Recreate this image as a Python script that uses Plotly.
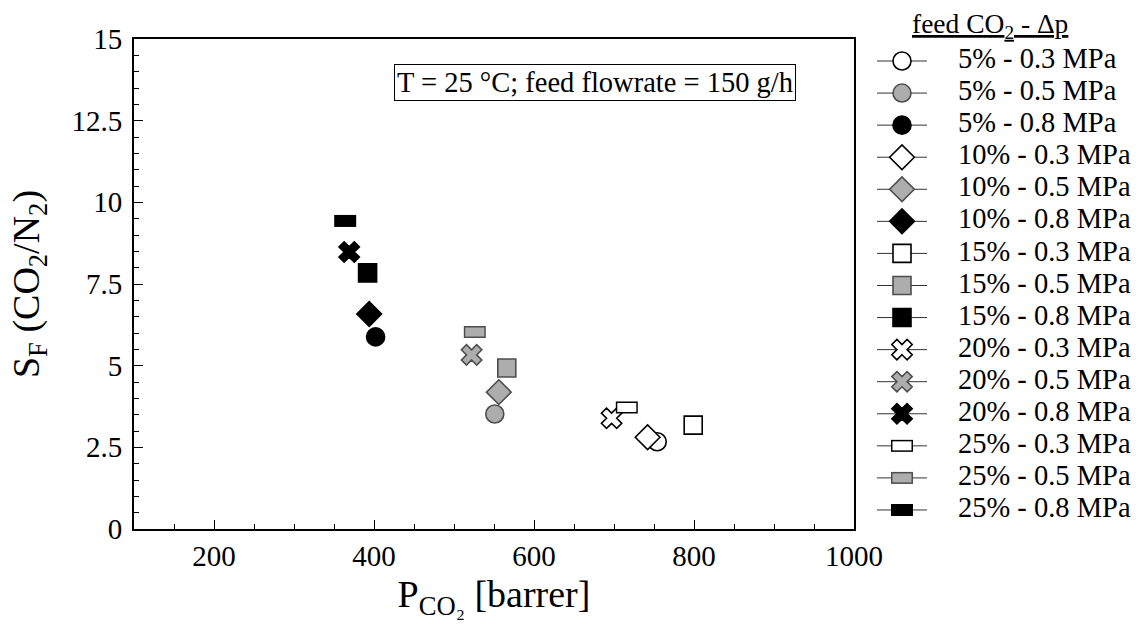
import plotly.graph_objects as go

# ---------------- data ----------------
feed_co2 = ["5%", "10%", "15%", "20%", "25%"]
delta_p = ["0.3 MPa", "0.5 MPa", "0.8 MPa"]

# CO2 permeance [barrer] per feed CO2 (5,10,15,20,25 %)
perm_03 = [754, 742, 799, 697, 716]
perm_05 = [551, 556, 566, 522, 526]
perm_08 = [402, 394, 392, 369, 364]
# selectivity S_F (CO2/N2)
sel_03 = [2.67, 2.81, 3.18, 3.39, 3.72]
sel_05 = [3.52, 4.19, 4.93, 5.33, 6.03]
sel_08 = [5.88, 6.58, 7.84, 8.48, 9.43]

x_ticks = [200, 400, 600, 800, 1000]
y_ticks = [0, 2.5, 5, 7.5, 10, 12.5, 15]

perms = [perm_03, perm_05, perm_08]
sels = [sel_03, sel_05, sel_08]

# ---------------- styles ----------------
FONT = "Liberation Serif"
symbols = ["circle", "diamond", "square", "x", "rect"]
sizes = {"circle": 18, "diamond": 19, "square": 18, "x": 18}
# (fill, edge) per delta p
fills = [("white", "black"), ("#adadad", "#4d4d4d"), ("black", "black")]

fig = go.Figure()


def add_marker(x, y, sym, fill, edge, xa, ya):
    if sym == "rect":
        fig.add_trace(go.Scatter(
            x=x, y=y, mode="markers", xaxis=xa, yaxis=ya, showlegend=False,
            hoverinfo="skip",
            marker=dict(symbol="line-ew", size=15.7, color=edge,
                        line=dict(color=edge, width=12))))
        if fill != edge:
            fig.add_trace(go.Scatter(
                x=x, y=y, mode="markers", xaxis=xa, yaxis=ya, showlegend=False,
                hoverinfo="skip",
                marker=dict(symbol="line-ew", size=13.6, color=fill,
                            line=dict(color=fill, width=9))))
    else:
        fig.add_trace(go.Scatter(
            x=x, y=y, mode="markers", xaxis=xa, yaxis=ya, showlegend=False,
            marker=dict(symbol=sym, size=sizes[sym], color=fill,
                        line=dict(color=edge, width=1.6))))


# data markers in the plot
for i, feed in enumerate(feed_co2):
    for j, dp in enumerate(delta_p):
        add_marker([perms[j][i]], [sels[j][i]], symbols[i],
                   fills[j][0], fills[j][1], "x", "y")

# ---------------- custom legend (second axes) ----------------
labels = [f"{f} - {d}" for f in feed_co2 for d in delta_p]
rows = list(range(len(labels)))
seg_x, seg_y = [], []
for r in rows:
    seg_x += [17, 67, None]
    seg_y += [r, r, None]
fig.add_trace(go.Scatter(x=seg_x, y=seg_y, mode="lines", xaxis="x2", yaxis="y2",
                         showlegend=False, hoverinfo="skip",
                         line=dict(color="#333333", width=1)))
for i, feed in enumerate(feed_co2):
    for j, dp in enumerate(delta_p):
        r = i * 3 + j
        add_marker([42], [r], symbols[i], fills[j][0], fills[j][1], "x2", "y2")
fig.add_trace(go.Scatter(x=[98] * len(labels), y=rows, text=labels, mode="text",
                         textposition="middle right", xaxis="x2", yaxis="y2",
                         showlegend=False, hoverinfo="skip", cliponaxis=False,
                         textfont=dict(family=FONT, size=28.5, color="black")))

W, H = 1144, 632
L, R, T, B = 134, 0, 39, 103
pw = W - L - R
ph = H - T - B
main_right = 854

fig.update_layout(
    template="none",
    width=W, height=H,
    margin=dict(l=L, r=R, t=T, b=B, autoexpand=False),
    paper_bgcolor="white", plot_bgcolor="white",
    font=dict(family=FONT, color="black", size=28),
    showlegend=False,
    xaxis=dict(
        domain=[0, (main_right - L) / pw], automargin=False,
        range=[100, 1000], tickvals=x_ticks, ticks="inside", ticklen=9,
        tickwidth=1, tickcolor="black",
        minor=dict(dtick=50, tick0=0, ticks="inside", ticklen=5, tickcolor="black",
                   showgrid=False),
        showline=True, linecolor="black", linewidth=2, mirror=True,
        showgrid=False, zeroline=False,
        tickfont=dict(family=FONT, size=29),
        title=dict(text="P<sub>CO₂</sub> [barrer]", font=dict(family=FONT, size=38),
                   standoff=10),
    ),
    yaxis=dict(
        automargin=False,
        range=[0, 15], tickvals=y_ticks, ticks="inside", ticklen=9,
        tickwidth=1, tickcolor="black",
        minor=dict(dtick=0.5, tick0=0, ticks="inside", ticklen=5, tickcolor="black",
                   showgrid=False),
        showline=True, linecolor="black", linewidth=2, mirror=True,
        showgrid=False, zeroline=False,
        tickfont=dict(family=FONT, size=29), ticklabelstandoff=4,
        title=dict(text="S<sub>F</sub> (CO<sub>2</sub>/N<sub>2</sub>)",
                   font=dict(family=FONT, size=38), standoff=20),
    ),
    xaxis2=dict(domain=[(860 - L) / pw, 1], range=[0, 284], visible=False,
                anchor="y2", fixedrange=True, automargin=False),
    yaxis2=dict(domain=[0, 1], range=[(529 - 61) / 32.07, (39 - 61) / 32.07],
                visible=False, anchor="x2", fixedrange=True, automargin=False),
    annotations=[
        dict(text="T = 25 °C; feed flowrate = 150 g/h", xref="paper", yref="paper",
             x=(594.5 - L) / pw, y=(529 - 82) / ph, xanchor="center", yanchor="middle",
             showarrow=False, font=dict(family=FONT, size=28.5), bordercolor="black",
             borderwidth=1, borderpad=2, bgcolor="white"),
        dict(text="<u>feed CO<sub>2</sub> - Δp</u>", xref="paper", yref="paper",
             x=(910 - L) / pw, y=(529 - 25) / ph, xanchor="left", yanchor="middle",
             showarrow=False, font=dict(family=FONT, size=27.5)),
    ],
)

fig.write_html("out.html")
